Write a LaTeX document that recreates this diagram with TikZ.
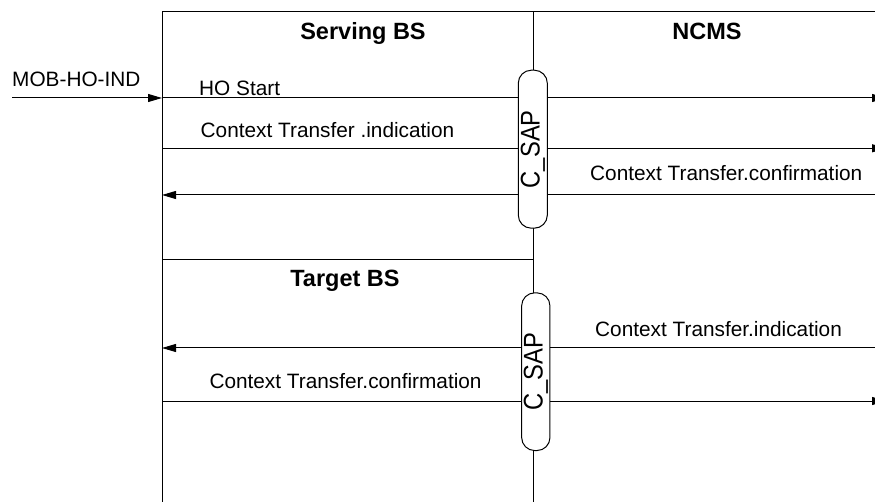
\documentclass[tikz,border=0pt]{standalone}
\usepackage{fontspec}
\setmainfont{Liberation Sans}
\usetikzlibrary{arrows.meta}
\begin{document}
\begin{tikzpicture}[x=1pt,y=-1pt,
  frame/.style={draw=black,line width=1pt},
  msg/.style={draw=black,line width=1pt},
  arr/.style={-{Triangle[length=14pt,width=8pt]}},
  lbl/.style={inner sep=0pt,anchor=base west,font=\fontsize{20.8}{22}\selectfont},
  head/.style={inner sep=0pt,anchor=base,font=\fontsize{23.5}{25}\selectfont\bfseries},
  sap/.style={draw=black,line width=1pt,fill=white,rounded corners=13pt,inner sep=0pt},
  saptext/.style={inner sep=0pt,rotate=90,font=\fontsize{27}{28}\selectfont}]
\useasboundingbox (0,0) rectangle (875,502);
% frame
\coordinate (lbot) at (162,503);
\coordinate (ltop) at (162,12);
\coordinate (rtop) at (880,12);
\coordinate (mtop) at (533,12);
\coordinate (mbot) at (533,503);
\coordinate (sepL) at (162,260);
\coordinate (sepR) at (533,260);
\draw[frame] (lbot) -- (ltop) -- (rtop);
\draw[frame] (mtop) -- (mbot);
\draw[frame] (sepL) -- (sepR);
% headers
\node[head] (hsbs) at (363,39.5) {Serving BS};
\node[head] (hncms) at (707,40) {NCMS};
\node[head] (htbs) at (345,286.5) {Target BS};
% capsules
\node[sap,minimum width=29pt,minimum height=158pt] (cap1) at (532.8,149.2) {};
\node[saptext] (cap1t) at (cap1.center) {\scalebox{0.88}[1]{C\_SAP}};
\node[sap,minimum width=28.3pt,minimum height=157.7pt] (cap2) at (535.8,371.7) {};
\node[saptext] (cap2t) at (cap2.center) {\scalebox{0.88}[1]{C\_SAP}};
% message coordinates
\coordinate (mobL) at (12,98);
\coordinate (sbA) at (162,98);
\coordinate (ncA) at (886,98);
\coordinate (sbB) at (162,148.3);
\coordinate (ncB) at (886,148.3);
\coordinate (sbC) at (162,195);
\coordinate (ncC) at (876,195);
\coordinate (tbD) at (162,348);
\coordinate (ncD) at (876,348);
\coordinate (tbE) at (162,401);
\coordinate (ncE) at (886,401);
% messages
\draw[msg,arr] (mobL) -- (sbA);
\node[lbl] (tmob) at (12,86.7) {MOB-HO-IND};
\draw[msg] (sbA) -- (sbA -| cap1.west);
\draw[msg,arr] (cap1.east |- sbA) -- (ncA);
\node[lbl] (tho) at (199,95.5) {HO Start};
\draw[msg] (sbB) -- (sbB -| cap1.west);
\draw[msg,arr] (cap1.east |- sbB) -- (ncB);
\node[lbl] (tcti1) at (200.5,138) {Context Transfer .indication};
\draw[msg] (ncC) -- (cap1.east |- ncC);
\draw[msg,arr] (sbC -| cap1.west) -- (sbC);
\node[lbl] (tctc1) at (590,181) {Context Transfer.confirmation};
\draw[msg] (ncD) -- (cap2.east |- ncD);
\draw[msg,arr] (tbD -| cap2.west) -- (tbD);
\node[lbl] (tcti2) at (595,336.7) {Context Transfer.indication};
\draw[msg] (tbE) -- (tbE -| cap2.west);
\draw[msg,arr] (cap2.east |- tbE) -- (ncE);
\node[lbl] (tctc2) at (209.3,388.3) {Context Transfer.confirmation};
\end{tikzpicture}
\end{document}
